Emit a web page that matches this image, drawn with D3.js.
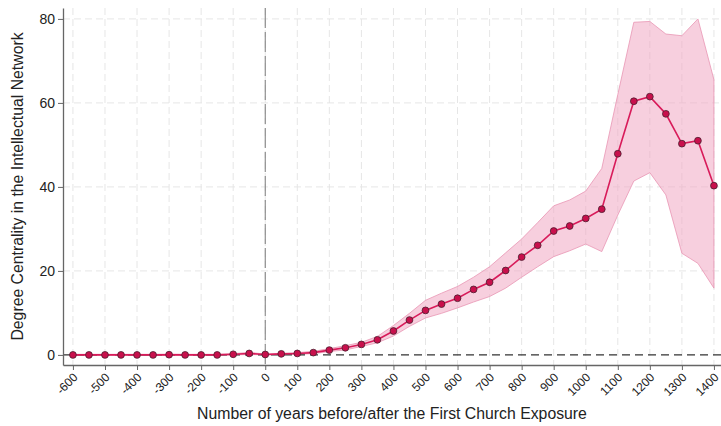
<!DOCTYPE html>
<html>
<head>
<meta charset="utf-8">
<script src="https://cdn.jsdelivr.net/npm/d3@7"></script>
<style>
  body { margin: 0; background: #fff; }
  text { font-family: "Liberation Sans", Arial, sans-serif; fill: #222; }
</style>
</head>
<body>
<div id="chart"></div>
<script>
const width = 721;
const height = 426;

const years = [-600, -550, -500, -450, -400, -350, -300, -250, -200, -150, -100, -50,
  0, 50, 100, 150, 200, 250, 300, 350, 400, 450, 500, 550, 600, 650, 700, 750, 800,
  850, 900, 950, 1000, 1050, 1100, 1150, 1200, 1250, 1300, 1350, 1400];

const estimate = [0, 0, 0, 0, 0, 0, 0.05, 0, 0, 0, 0.15, 0.35,
  0.1, 0.25, 0.35, 0.55, 1.15, 1.7, 2.5, 3.6, 5.7, 8.3, 10.6, 12.1, 13.5, 15.6, 17.3, 20.1, 23.3,
  26.1, 29.5, 30.7, 32.5, 34.7, 47.9, 60.4, 61.5, 57.4, 50.3, 51.0, 40.3];

const upper = [0.15, 0.15, 0.15, 0.15, 0.15, 0.15, 0.2, 0.15, 0.15, 0.15, 0.3, 0.6,
  0.2, 0.4, 0.55, 0.85, 1.5, 2.2, 3.0, 4.4, 7.0, 9.9, 13.0, 14.7, 16.3, 18.5, 21.0, 24.3, 27.6,
  31.5, 35.5, 36.9, 39.0, 44.4, 62.0, 79.2, 79.4, 76.4, 76.0, 80.0, 65.5];

const lower = [-0.1, -0.1, -0.1, -0.1, -0.1, -0.1, -0.1, -0.1, -0.1, -0.1, 0, 0.1,
  0, 0.1, 0.15, 0.3, 0.8, 1.2, 2.0, 2.9, 4.5, 6.8, 8.8, 9.9, 11.2, 12.6, 13.9, 15.9, 18.5,
  21.0, 23.4, 24.8, 26.4, 24.6, 33.3, 41.4, 43.4, 38.1, 24.2, 21.8, 15.9];

const xTicks = [-600, -500, -400, -300, -200, -100, 0, 100, 200, 300, 400, 500, 600,
  700, 800, 900, 1000, 1100, 1200, 1300, 1400];
const yTicks = [0, 20, 40, 60, 80];

const data = years.map((y, i) => ({ year: y, est: estimate[i], lo: lower[i], hi: upper[i] }));

const margin = { top: 8, right: 0, bottom: 61, left: 63 };

const x = d3.scaleLinear()
    .domain([-631, 1422])
    .range([margin.left, width - margin.right]);

const y = d3.scaleLinear()
    .domain([-2.4, 82.6])
    .range([height - margin.bottom, margin.top]);

const svg = d3.select("#chart")
    .append("svg")
    .attr("width", width)
    .attr("height", height);

// grid
svg.append("g")
    .selectAll("line")
    .data(xTicks)
    .join("line")
    .attr("x1", d => x(d)).attr("x2", d => x(d))
    .attr("y1", margin.top).attr("y2", height - margin.bottom)
    .attr("stroke", "#e6e6e6")
    .attr("stroke-dasharray", "7,4");

svg.append("g")
    .selectAll("line")
    .data(yTicks.filter(d => d > 0))
    .join("line")
    .attr("x1", margin.left).attr("x2", width)
    .attr("y1", d => y(d)).attr("y2", d => y(d))
    .attr("stroke", "#e6e6e6")
    .attr("stroke-dasharray", "7,4");

// confidence band
const area = d3.area()
    .x(d => x(d.year))
    .y0(d => y(d.lo))
    .y1(d => y(d.hi));

svg.append("path")
    .datum(data)
    .attr("d", area)
    .attr("fill", "#f0a8c2")
    .attr("fill-opacity", 0.55)
    .attr("stroke", "#e896b4")
    .attr("stroke-width", 0.8);

// reference lines
svg.append("line")
    .attr("x1", x(0)).attr("x2", x(0))
    .attr("y1", margin.top).attr("y2", height - margin.bottom)
    .attr("stroke", "#7a7a7a")
    .attr("stroke-width", 1)
    .attr("stroke-dasharray", "20,4");

svg.append("line")
    .attr("x1", margin.left).attr("x2", width)
    .attr("y1", y(0)).attr("y2", y(0))
    .attr("stroke", "#333")
    .attr("stroke-width", 1.3)
    .attr("stroke-dasharray", "8,5");

// estimate line and markers
const line = d3.line()
    .x(d => x(d.year))
    .y(d => y(d.est));

svg.append("path")
    .datum(data)
    .attr("d", line)
    .attr("fill", "none")
    .attr("stroke", "#d81b5a")
    .attr("stroke-width", 1.6);

svg.append("g")
    .selectAll("circle")
    .data(data)
    .join("circle")
    .attr("cx", d => x(d.year))
    .attr("cy", d => y(d.est))
    .attr("r", 3.4)
    .attr("fill", "#c8104c")
    .attr("stroke", "#4a2030")
    .attr("stroke-width", 0.8);

// axes
const xAxis = svg.append("g")
    .attr("transform", `translate(0,${height - margin.bottom})`)
    .call(d3.axisBottom(x).tickValues(xTicks).tickSize(5).tickSizeOuter(0).tickFormat(d => String(d)));

xAxis.select(".domain").attr("stroke", "#666").attr("stroke-width", 1.3);
xAxis.selectAll(".tick line").attr("stroke", "#666");
xAxis.selectAll("text")
    .attr("font-size", 12)
    .attr("text-anchor", "end")
    .attr("y", 0)
    .attr("dy", "0.35em")
    .attr("transform", "translate(2,10) rotate(-45)");

const yAxis = svg.append("g")
    .attr("transform", `translate(${margin.left},0)`)
    .call(d3.axisLeft(y).tickValues(yTicks).tickSize(5).tickSizeOuter(0));

yAxis.select(".domain").attr("stroke", "#666").attr("stroke-width", 1.3);
yAxis.selectAll(".tick line").attr("stroke", "#666");
yAxis.selectAll("text").attr("font-size", 14);

// titles
svg.append("text")
    .attr("x", (margin.left + width) / 2)
    .attr("y", 419)
    .attr("text-anchor", "middle")
    .attr("font-size", 15.8)
    .text("Number of years before/after the First Church Exposure");

svg.append("text")
    .attr("transform", `translate(23,${(margin.top + height - margin.bottom) / 2}) rotate(-90)`)
    .attr("text-anchor", "middle")
    .attr("font-size", 15.8)
    .text("Degree Centrality in the Intellectual Network");
</script>
</body>
</html>
